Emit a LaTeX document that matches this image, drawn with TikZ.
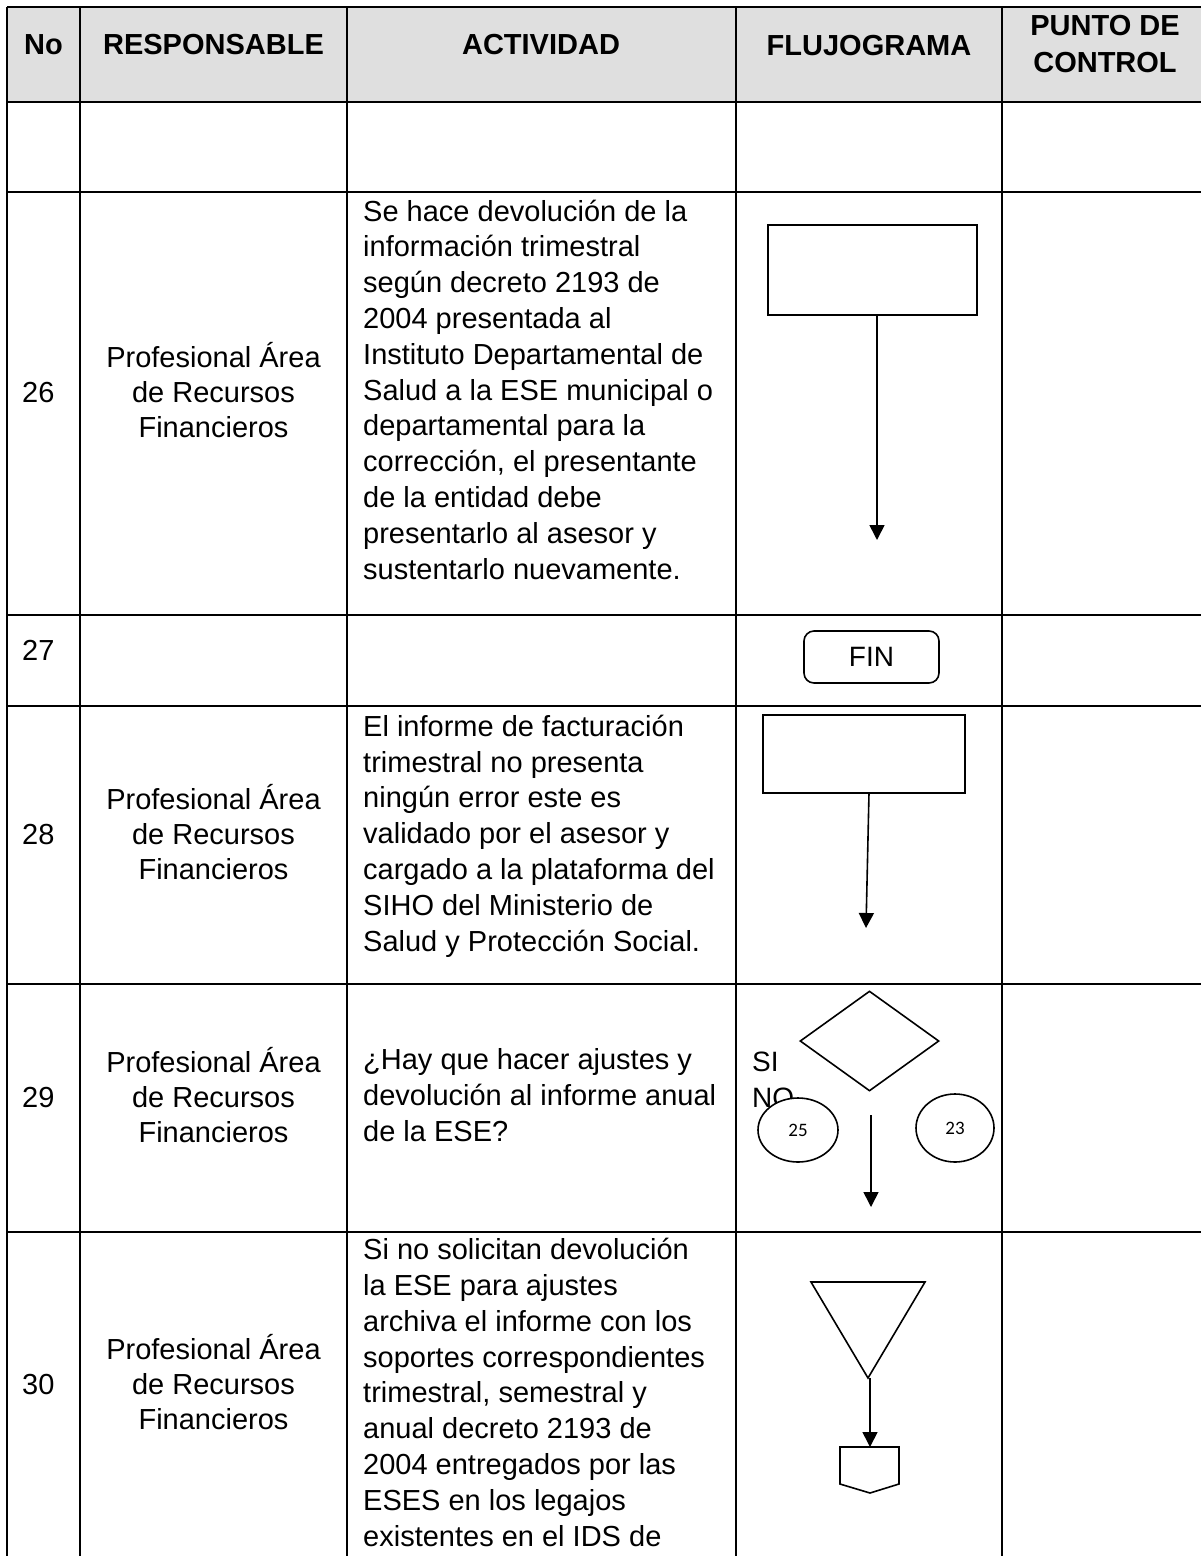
\documentclass[tikz,border=0pt]{standalone}
\usepackage{fontspec}
\setmainfont{Liberation Sans}
\newfontfamily\numfont{Carlito}
\usetikzlibrary{shapes.geometric,arrows.meta}

\begin{document}
\begin{tikzpicture}[x=1pt,y=-1pt,
  gridline/.style={line width=1.6pt},
  fshape/.style={draw, line width=1.6pt, inner sep=0pt, fill=white},
  arr/.style={line width=1.6pt, -{Triangle[width=15pt,length=15pt]}},
  hd/.style={font=\fontsize{29}{37}\selectfont\bfseries, inner sep=0pt, align=center, anchor=base},
  num/.style={font=\fontsize{29}{35}\selectfont, inner sep=0pt, anchor=base west},
  resp/.style={font=\fontsize{29}{35}\selectfont, inner sep=0pt, align=center, anchor=base},
  act/.style={font=\fontsize{29}{35.8}\selectfont, inner sep=0pt, align=left, anchor=base west},
  lbl/.style={font=\fontsize{28}{34}\selectfont, inner sep=0pt, anchor=base west},
  conn/.style={fshape, ellipse, font=\numfont\fontsize{19}{22}\selectfont},
]
\definecolor{hdrgray}{HTML}{DFDFDF}
\useasboundingbox (0,0) rectangle (1201,1556);
\clip (0,0) rectangle (1201,1556);

% header band
\fill[hdrgray] (7,7) rectangle (1208,102);

% table rules
\foreach \yy in {7,102,192,615,706,984,1232}
  \draw[gridline] (7,\yy) -- (1208,\yy);
\foreach \xx in {7,80,347,736,1002,1208}
  \draw[gridline] (\xx,7) -- (\xx,1560);

% header texts (base anchor = baseline of the last line)
\node[hd] (hNo)   at (43.5,54) {No};
\node[hd] (hResp) at (213.5,54) {RESPONSABLE};
\node[hd] (hAct)  at (541,54) {ACTIVIDAD};
\node[hd] (hFlu)  at (869,55) {FLUJOGRAMA};
\node[hd] (hPun)  at (1105,72) {PUNTO DE\\CONTROL};

% step numbers
\node[num] (n26) at (22,402) {26};
\node[num] (n27) at (22,660) {27};
\node[num] (n28) at (22,844) {28};
\node[num] (n29) at (22,1107) {29};
\node[num] (n30) at (22,1394) {30};

% responsible
\node[resp] (r26t) at (213.5,437) {Profesional Área\\de Recursos\\Financieros};
\node[resp] (r28t) at (213.5,879) {Profesional Área\\de Recursos\\Financieros};
\node[resp] (r29t) at (213.5,1142) {Profesional Área\\de Recursos\\Financieros};
\node[resp] (r30t) at (213.5,1429) {Profesional Área\\de Recursos\\Financieros};

% activities
\node[act] (a26t) at (363,579) {Se hace devolución de la\\información trimestral\\según decreto 2193 de\\2004 presentada al\\Instituto Departamental de\\Salud a la ESE municipal o\\departamental para la\\corrección, el presentante\\de la entidad debe\\presentarlo al asesor y\\sustentarlo nuevamente.};
\node[act] (a28t) at (363,951) {El informe de facturación\\trimestral no presenta\\ningún error este es\\validado por el asesor y\\cargado a la plataforma del\\SIHO del Ministerio de\\Salud y Protección Social.};
\node[act] (a29t) at (363,1141) {¿Hay que hacer ajustes y\\devolución al informe anual\\de la ESE?};
\node[act] (a30t) at (363,1546) {Si no solicitan devolución\\la ESE para ajustes\\archiva el informe con los\\soportes correspondientes\\trimestral, semestral y\\anual decreto 2193 de\\2004 entregados por las\\ESES en los legajos\\existentes en el IDS de};

% flowchart, step 26
\node[fshape, rectangle, minimum width=209pt, minimum height=90pt] (p26) at (872.5,270) {};
\coordinate (e26) at (877,540);
\draw[arr] (p26.south -| e26) -- (e26);

% step 27
\node[fshape, rectangle, rounded corners=10pt, minimum width=135pt, minimum height=52pt,
      font=\fontsize{28}{34}\selectfont] (fin) at (871.5,657) {FIN};

% step 28
\node[fshape, rectangle, minimum width=202pt, minimum height=78pt] (p28) at (864,754) {};
\coordinate (s28) at (869,793);
\coordinate (e28) at (866,928);
\draw[arr] (s28) -- (e28);

% step 29
\node[fshape, diamond, minimum width=139pt, minimum height=100pt] (d29) at (869.5,1041) {};
\node[lbl] (si) at (752,1071) {SI};
\node[lbl] (no) at (752,1107) {NO};
\node[conn, minimum width=80pt, minimum height=64pt] (c25) at (798,1130) {25};
\node[conn, minimum width=78pt, minimum height=68pt] (c23) at (955,1128) {23};
\coordinate (s29) at (871,1115);
\coordinate (e29) at (871,1207);
\draw[arr] (s29) -- (e29);

% step 30: archive triangle and off-page connector
\coordinate (t1) at (811,1282);
\coordinate (t2) at (925,1282);
\coordinate (t3) at (868,1378);
\draw[line width=1.6pt, line join=miter] (t1) -- (t2) -- (t3) -- cycle;
\coordinate (q1) at (840,1447);
\coordinate (q2) at (899,1447);
\coordinate (q3) at (899,1484);
\coordinate (q4) at (870,1493);
\coordinate (q5) at (840,1484);
\draw[line width=1.6pt] (q1) -- (q2) -- (q3) -- (q4) -- (q5) -- cycle;
\coordinate (qt) at (870,1447);
\draw[arr] (t3 -| qt) -- (qt);
\end{tikzpicture}
\end{document}
